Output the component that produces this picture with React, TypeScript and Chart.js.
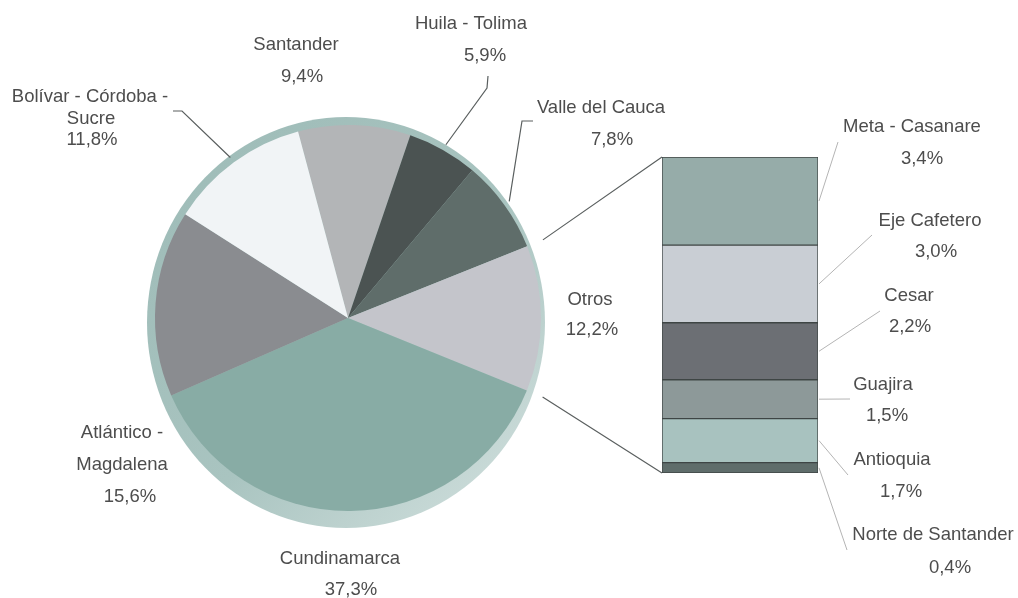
import { useEffect, useRef } from "react";
import { Chart, registerables } from "chart.js";

Chart.register(...registerables);

// ---------- data ----------
const pieLabels = [
  "Santander",
  "Huila - Tolima",
  "Valle del Cauca",
  "Otros",
  "Cundinamarca",
  "Atlántico - Magdalena",
  "Bolívar - Córdoba - Sucre",
];
const pieValues = [9.4, 5.9, 7.8, 12.2, 37.3, 15.6, 11.8];

// breakdown of "Otros", listed from bottom to top of the stacked bar
const otrosLabels = [
  "Norte de Santander",
  "Antioquia",
  "Guajira",
  "Cesar",
  "Eje Cafetero",
  "Meta - Casanare",
];
const otrosValues = [0.4, 1.7, 1.5, 2.2, 3.0, 3.4];

// ---------- styles ----------
const pieColors = [
  "#b3b5b7",
  "#4b5352",
  "#5f6d6a",
  "#c4c5cb",
  "#88aca5",
  "#8a8c90",
  "#f1f4f6",
];
const otrosColors = ["#5f6d6b", "#a8c2bf", "#8d9999", "#6c6f74", "#c9ced4", "#96aca9"];

const FONT = '18.5px "Liberation Sans", Arial, sans-serif';
const TEXT_COLOR = "#4d4d4d";

const fmt = (v: number) => v.toFixed(1).replace(".", ",") + "%";

// label layout (text lines with centre positions)
const pieLabelLayout: { lines: string[]; pos: [number, number][]; elbow?: [number, number][] }[] = [
  { lines: ["Santander"], pos: [[296, 45], [302, 77]] },
  { lines: ["Huila - Tolima"], pos: [[471, 24], [485, 56]], elbow: [[488, 76], [487, 88]] },
  { lines: ["Valle del Cauca"], pos: [[601, 108], [612, 140]], elbow: [[533, 121], [522, 121]] },
  { lines: ["Otros"], pos: [[590, 300], [592, 330]] },
  { lines: ["Cundinamarca"], pos: [[340, 559], [351, 590]] },
  { lines: ["Atlántico -", "Magdalena"], pos: [[122, 433], [122, 465], [130, 497]] },
  { lines: ["Bolívar - Córdoba -", "Sucre"], pos: [[90, 97], [91, 119], [92, 140]], elbow: [[173, 111], [182, 111]] },
];

const otrosLabelLayout: { name: [number, number]; value: [number, number]; anchor: [number, number] }[] = [
  { name: [933, 535], value: [950, 568], anchor: [847, 550] },
  { name: [892, 460], value: [901, 492], anchor: [848, 475] },
  { name: [883, 385], value: [887, 416], anchor: [850, 399] },
  { name: [909, 296], value: [910, 327], anchor: [880, 311] },
  { name: [930, 221], value: [936, 252], anchor: [872, 235] },
  { name: [912, 127], value: [922, 159], anchor: [838, 142] },
];

export default function App() {
  const barRef = useRef<HTMLCanvasElement | null>(null);
  const pieRef = useRef<HTMLCanvasElement | null>(null);

  useEffect(() => {
    if (!barRef.current || !pieRef.current) return;
    const total = otrosValues.reduce((a, b) => a + b, 0);

    const barLabelsPlugin = {
      id: "barLabels",
      afterDatasetsDraw(chart: any) {
        const ctx = chart.ctx as CanvasRenderingContext2D;
        ctx.save();
        ctx.font = FONT;
        ctx.textAlign = "center";
        ctx.textBaseline = "middle";
        otrosLabels.forEach((lab, i) => {
          const el = chart.getDatasetMeta(i).data[0] as any;
          const right = el.x + el.width / 2;
          const midY = (el.y + el.base) / 2;
          const L = otrosLabelLayout[i];
          ctx.strokeStyle = "#b4b4b4";
          ctx.lineWidth = 1;
          ctx.beginPath();
          ctx.moveTo(right + 1, midY);
          ctx.lineTo(L.anchor[0], L.anchor[1]);
          ctx.stroke();
          ctx.fillStyle = TEXT_COLOR;
          ctx.fillText(lab, L.name[0], L.name[1]);
          ctx.fillText(fmt(otrosValues[i]), L.value[0], L.value[1]);
        });
        ctx.restore();
      },
    };

    const barChart = new Chart(barRef.current, {
      type: "bar",
      data: {
        labels: ["Otros"],
        datasets: otrosLabels.map((l, i) => ({
          label: l,
          data: [otrosValues[i]],
          backgroundColor: otrosColors[i],
          borderColor: "#3f4645",
          borderWidth: 1,
          borderSkipped: false,
          barPercentage: 1,
          categoryPercentage: 1,
        })),
      },
      options: {
        responsive: false,
        animation: false,
        layout: { padding: { left: 662, right: 200, top: 157, bottom: 125 } },
        plugins: { legend: { display: false }, tooltip: { enabled: false } },
        scales: {
          x: { display: false, stacked: true },
          y: { display: false, stacked: true, min: 0, max: total },
        },
      },
      plugins: [barLabelsPlugin],
    });

    const ringPlugin = {
      id: "ring",
      beforeDatasetsDraw(chart: any) {
        const arc = chart.getDatasetMeta(0).data[0] as any;
        if (!arc) return;
        const ctx = chart.ctx as CanvasRenderingContext2D;
        const r = arc.outerRadius;
        const cx = arc.x - 2;
        const cy = arc.y + 4.5;
        ctx.save();
        const g = ctx.createLinearGradient(cx - r, cy - r, cx + r, cy + r);
        g.addColorStop(0, "#9dbbb7");
        g.addColorStop(0.55, "#a9c4c0");
        g.addColorStop(1, "#d3e1df");
        ctx.fillStyle = g;
        ctx.beginPath();
        ctx.ellipse(cx, cy, r + 6, r + 12.5, 0, 0, Math.PI * 2);
        ctx.fill();
        ctx.restore();
      },
    };

    const pieLabelsPlugin = {
      id: "pieLabels",
      afterDatasetsDraw(chart: any) {
        const ctx = chart.ctx as CanvasRenderingContext2D;
        const meta = chart.getDatasetMeta(0);
        ctx.save();
        // connectors from "Otros" slice to the bar
        const otrosArc = meta.data[3] as any;
        const ba = barChart.chartArea;
        const R = otrosArc.outerRadius + 17;
        ctx.strokeStyle = "#5a5f5f";
        ctx.lineWidth = 1.2;
        ctx.beginPath();
        ctx.moveTo(otrosArc.x + Math.cos(otrosArc.startAngle) * R, otrosArc.y + Math.sin(otrosArc.startAngle) * R);
        ctx.lineTo(ba.left, ba.top);
        ctx.moveTo(otrosArc.x + Math.cos(otrosArc.endAngle) * R, otrosArc.y + Math.sin(otrosArc.endAngle) * R);
        ctx.lineTo(ba.left, ba.bottom);
        ctx.stroke();

        ctx.font = FONT;
        ctx.textAlign = "center";
        ctx.textBaseline = "middle";
        pieLabels.forEach((_, i) => {
          const L = pieLabelLayout[i];
          const arc = meta.data[i] as any;
          if (L.elbow) {
            const mid = (arc.startAngle + arc.endAngle) / 2;
            const rr = arc.outerRadius + 6;
            ctx.strokeStyle = "#5a5f5f";
            ctx.lineWidth = 1.2;
            ctx.beginPath();
            ctx.moveTo(L.elbow[0][0], L.elbow[0][1]);
            ctx.lineTo(L.elbow[1][0], L.elbow[1][1]);
            ctx.lineTo(arc.x + Math.cos(mid) * rr, arc.y + Math.sin(mid) * rr);
            ctx.stroke();
          }
          ctx.fillStyle = TEXT_COLOR;
          L.lines.forEach((t, k) => ctx.fillText(t, L.pos[k][0], L.pos[k][1]));
          const vp = L.pos[L.lines.length];
          ctx.fillText(fmt(pieValues[i]), vp[0], vp[1]);
        });
        ctx.restore();
      },
    };

    const pieChart = new Chart(pieRef.current, {
      type: "pie",
      data: {
        labels: pieLabels,
        datasets: [
          {
            data: pieValues,
            backgroundColor: pieColors,
            borderWidth: 0,
          },
        ],
      },
      options: {
        responsive: false,
        animation: false,
        rotation: -15,
        layout: { padding: { left: 155, right: 477, top: 125, bottom: 87 } },
        plugins: { legend: { display: false }, tooltip: { enabled: false } },
      },
      plugins: [ringPlugin, pieLabelsPlugin],
    });

    return () => {
      pieChart.destroy();
      barChart.destroy();
    };
  }, []);

  return (
    <div style={{ position: "absolute", left: 0, top: 0, width: 1018, height: 598, background: "#ffffff" }}>
      <canvas ref={barRef} width={1018} height={598} style={{ position: "absolute", left: 0, top: 0 }} />
      <canvas ref={pieRef} width={1018} height={598} style={{ position: "absolute", left: 0, top: 0, pointerEvents: "none" }} />
    </div>
  );
}
